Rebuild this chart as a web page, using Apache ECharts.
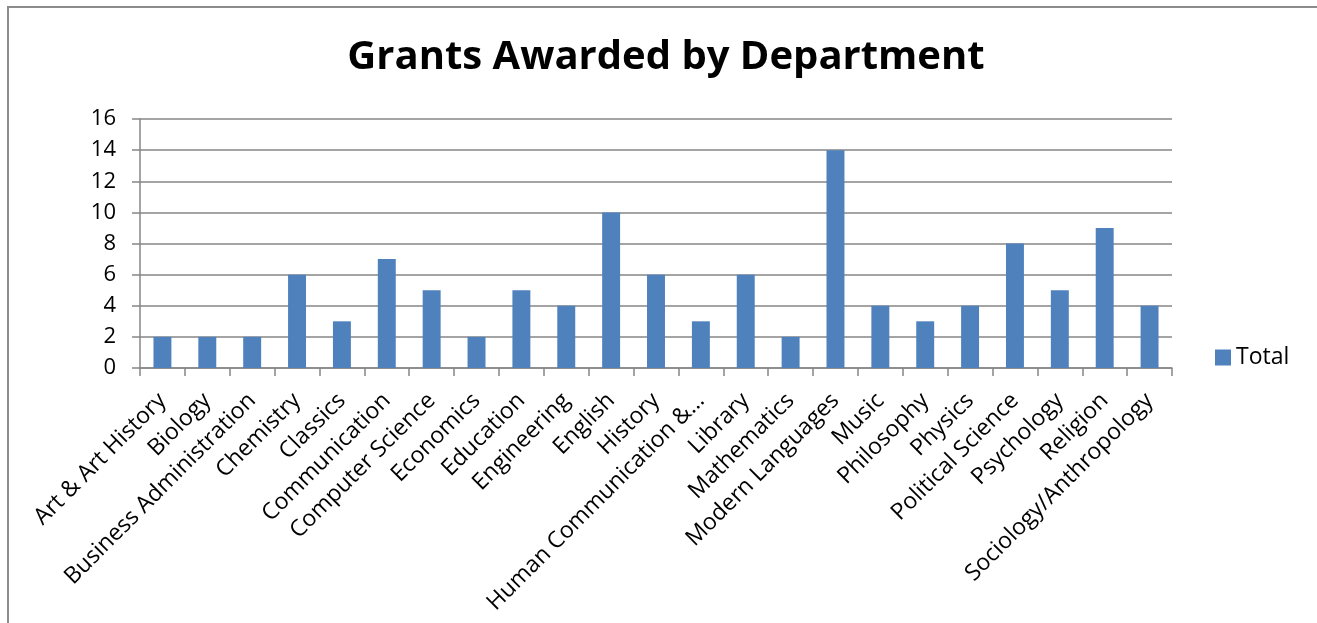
<!DOCTYPE html>
<html>
<head>
<meta charset="utf-8">
<script src="https://cdn.jsdelivr.net/npm/echarts@6/dist/echarts.min.js"></script>
<style>
  html, body { margin: 0; padding: 0; background: #fff; }
  #chart { width: 1317px; height: 623px; }
</style>
</head>
<body>
<div id="chart"></div>
<script>
const departments = [
  'Art & Art History', 'Biology', 'Business Administration', 'Chemistry', 'Classics',
  'Communication', 'Computer Science', 'Economics', 'Education', 'Engineering',
  'English', 'History', 'Human Communication &\u2026', 'Library', 'Mathematics',
  'Modern Languages', 'Music', 'Philosophy', 'Physics', 'Political Science',
  'Psychology', 'Religion', 'Sociology/Anthropology'
];
const totals = [2, 2, 2, 6, 3, 7, 5, 2, 5, 4, 10, 6, 3, 6, 2, 14, 4, 3, 4, 8, 5, 9, 4];
const seriesName = 'Total';
const chartTitle = 'Grants Awarded by Department';

const FONT = '"Open Sans", "Noto Sans", sans-serif';
const GRAY = '#868686';

const chart = echarts.init(document.getElementById('chart'), null, { renderer: 'canvas' });
chart.setOption({
  animation: false,
  textStyle: { fontFamily: FONT },
  title: {
    text: chartTitle,
    left: 661,
    top: 33,
    textAlign: 'center',
    textStyle: { fontFamily: FONT, fontSize: 40, fontWeight: 'bold', color: '#000' }
  },
  graphic: [{
    type: 'rect',
    shape: { x: 8, y: 7, width: 1400, height: 700 },
    style: { fill: 'none', stroke: '#8c8c8c', lineWidth: 2 },
    silent: true
  }],
  legend: {
    data: [seriesName],
    left: 1215,
    top: 346,
    padding: 0,
    itemWidth: 16,
    itemHeight: 16,
    itemGap: 4,
    icon: 'rect',
    textStyle: { fontFamily: FONT, fontSize: 23, color: '#000', padding: [0, 0, 0, 0] }
  },
  grid: { left: 140, right: 145, top: 119, bottom: 255, containLabel: false },
  xAxis: {
    type: 'category',
    data: departments,
    boundaryGap: true,
    axisLine: { lineStyle: { color: GRAY, width: 1.5 } },
    axisTick: { show: true, length: 8, lineStyle: { color: GRAY, width: 1.5 } },
    axisLabel: {
      interval: 0,
      rotate: 45,
      margin: 29,
      color: '#000',
      fontFamily: FONT,
      fontSize: 23
    }
  },
  yAxis: {
    type: 'value',
    min: 0,
    max: 16,
    interval: 2,
    axisLine: { show: true, lineStyle: { color: GRAY, width: 1.5 } },
    axisTick: { show: true, length: 8, lineStyle: { color: GRAY, width: 1.5 } },
    splitLine: { show: true, lineStyle: { color: GRAY, width: 1.5 } },
    axisLabel: { color: '#000', fontFamily: FONT, fontSize: 22, margin: 24 }
  },
  series: [{
    name: seriesName,
    type: 'bar',
    data: totals,
    barCategoryGap: '60%',
    itemStyle: { color: '#4f81bd' }
  }]
});
</script>
</body>
</html>
